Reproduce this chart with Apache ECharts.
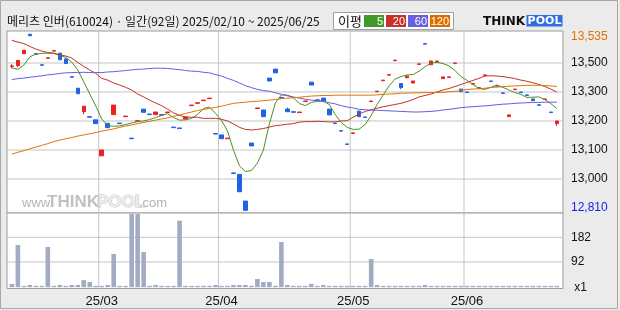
<!DOCTYPE html>
<html><head><meta charset="utf-8">
<script src="https://cdn.jsdelivr.net/npm/echarts@6/dist/echarts.min.js"></script>
<style>html,body{margin:0;padding:0;background:#ebebeb}#c{width:620px;height:310px}</style>
</head><body><div id="c"></div>
<script>
const titleText = '메리츠 인버(610024) · 일간(92일) 2025/02/10 ~ 2025/06/25';
const dates = [
'25/02/10','25/02/11','25/02/12','25/02/13','25/02/14','25/02/17','25/02/18','25/02/19','25/02/20','25/02/21',
'25/02/24','25/02/25','25/02/26','25/02/27','25/02/28','25/03/04','25/03/05','25/03/06','25/03/07','25/03/10',
'25/03/11','25/03/12','25/03/13','25/03/14','25/03/17','25/03/18','25/03/19','25/03/20','25/03/21','25/03/24',
'25/03/25','25/03/26','25/03/27','25/03/28','25/03/31','25/04/01','25/04/02','25/04/03','25/04/04','25/04/07',
'25/04/08','25/04/09','25/04/10','25/04/11','25/04/14','25/04/15','25/04/16','25/04/17','25/04/18','25/04/21',
'25/04/22','25/04/23','25/04/24','25/04/25','25/04/28','25/04/29','25/04/30','25/05/02','25/05/07','25/05/08',
'25/05/09','25/05/12','25/05/13','25/05/14','25/05/15','25/05/16','25/05/19','25/05/20','25/05/21','25/05/22',
'25/05/23','25/05/26','25/05/27','25/05/28','25/05/29','25/05/30','25/06/02','25/06/04','25/06/05','25/06/09',
'25/06/10','25/06/11','25/06/12','25/06/13','25/06/16','25/06/17','25/06/18','25/06/19','25/06/20','25/06/23',
'25/06/24','25/06/25'];
const opens = [
13388,13391,13432,13499,13432,13394,13416,13441,13434,13414,
13353,13313,13232,13215,13204,13080,13192,13222,13193,13215,
13141,13199,13241,13224,13222,13222,13229,13179,13176,13207,
13253,13261,13270,13277,13157,13152,13139,13021,13016,12924,
13124,13243,13238,13348,13379,13281,13241,13232,13229,13267,
13334,13273,13279,13241,13193,13167,13121,13157,13234,13214,
13267,13301,13339,13358,13408,13329,13349,13331,13395,13467,
13394,13405,13346,13350,13398,13310,13300,13327,13313,13357,
13338,13322,13297,13215,13308,13300,13290,13276,13256,13274,
13231,13191];
const closes = [
13390,13409,13444,13494,13430,13392,13418,13443,13411,13398,
13351,13294,13251,13213,13191,13100,13177,13255,13191,13217,
13139,13201,13230,13222,13231,13220,13231,13177,13174,13214,
13255,13263,13272,13279,13155,13139,13141,13019,12956,12892,
13114,13245,13215,13338,13366,13279,13232,13230,13231,13269,
13324,13271,13269,13221,13191,13165,13119,13159,13215,13212,
13269,13303,13341,13360,13410,13315,13355,13338,13397,13465,
13407,13407,13352,13352,13400,13301,13298,13329,13315,13359,
13336,13320,13295,13221,13310,13298,13288,13270,13254,13276,
13229,13200];
const lows = [
13382,13386,13432,13494,13430,13392,13416,13441,13411,13398,
13351,13294,13223,13213,13191,13080,13177,13222,13191,13215,
13139,13199,13230,13222,13222,13220,13229,13177,13174,13207,
13253,13261,13270,13277,13155,13139,13139,13019,12956,12892,
13114,13243,13215,13338,13366,13279,13232,13230,13229,13267,
13324,13271,13269,13221,13191,13165,13119,13157,13215,13212,
13267,13301,13339,13358,13408,13310,13349,13331,13395,13465,
13394,13405,13346,13350,13398,13301,13298,13327,13313,13357,
13336,13320,13295,13215,13308,13298,13288,13270,13254,13274,
13229,13183];
const highs = [
13396,13409,13444,13499,13432,13394,13418,13443,13434,13414,
13353,13313,13251,13215,13204,13100,13192,13255,13193,13217,
13141,13201,13241,13224,13231,13222,13231,13179,13176,13214,
13255,13263,13272,13279,13157,13152,13141,13023,13016,12924,
13124,13245,13238,13348,13379,13281,13246,13232,13231,13269,
13334,13273,13279,13241,13193,13167,13121,13159,13234,13214,
13269,13303,13341,13360,13410,13329,13355,13338,13397,13467,
13407,13407,13352,13352,13400,13310,13300,13329,13315,13359,
13338,13322,13297,13221,13310,13300,13290,13276,13256,13276,
13231,13200];
const volumes = [
12,154,5,8,5,5,147,5,8,5,
8,8,26,19,5,5,8,121,5,5,
267,267,128,5,8,5,5,5,243,5,
5,5,5,5,8,5,5,8,8,8,
5,30,19,19,5,165,8,5,5,5,
12,5,8,5,5,5,5,5,5,5,
103,8,5,5,5,5,5,5,5,8,
5,5,5,5,5,5,5,5,5,5,
5,5,5,5,5,5,5,5,5,5,
5,5];
const ma5 = [
13383,13378,13393,13421,13431,13433,13434,13433,13426,13419,
13403,13376,13335,13293,13252,13207,13184,13182,13183,13188,
13193,13198,13200,13205,13212,13219,13225,13212,13203,13204,
13209,13222,13243,13248,13226,13202,13166,13100,13045,13026,
13029,13055,13100,13190,13262,13290,13289,13281,13260,13253,
13264,13268,13269,13257,13222,13195,13178,13171,13172,13188,
13219,13257,13290,13321,13345,13353,13359,13360,13372,13387,
13400,13402,13398,13390,13374,13353,13340,13326,13312,13309,
13316,13324,13316,13307,13298,13292,13281,13282,13283,13274,
13260,13243];
const ma20 = [
13478,13472,13467,13457,13448,13441,13436,13434,13428,13424,
13417,13402,13388,13376,13364,13347,13341,13331,13324,13316,
13307,13293,13283,13272,13262,13253,13241,13228,13219,13214,
13213,13213,13209,13209,13209,13206,13200,13190,13178,13171,
13169,13171,13174,13179,13184,13186,13189,13191,13196,13198,
13198,13199,13198,13197,13197,13200,13201,13213,13224,13233,
13239,13244,13249,13253,13257,13261,13267,13274,13283,13288,
13293,13300,13307,13312,13319,13326,13333,13340,13347,13355,
13356,13355,13353,13350,13346,13341,13337,13332,13326,13319,
13310,13300];
const ma60 = [
13343,13346,13348,13351,13353,13356,13359,13361,13364,13366,
13367,13367,13368,13367,13367,13367,13369,13370,13372,13374,
13376,13378,13379,13381,13382,13382,13381,13379,13377,13374,
13372,13371,13368,13366,13360,13355,13347,13340,13331,13322,
13315,13309,13305,13303,13297,13292,13287,13283,13279,13275,
13272,13270,13267,13263,13259,13253,13248,13245,13240,13239,
13237,13237,13236,13235,13234,13233,13232,13231,13231,13232,
13233,13235,13238,13240,13243,13246,13248,13249,13251,13252,
13254,13256,13258,13259,13261,13262,13263,13264,13264,13265,
13265,13265];
const ma120 = [
13086,13092,13098,13104,13110,13116,13122,13129,13134,13139,
13143,13148,13152,13156,13160,13165,13169,13173,13178,13183,
13186,13191,13195,13199,13203,13207,13211,13216,13221,13226,
13231,13236,13240,13243,13247,13251,13256,13261,13263,13265,
13267,13268,13270,13272,13274,13277,13279,13280,13282,13284,
13286,13287,13288,13288,13289,13289,13289,13289,13289,13289,
13289,13290,13292,13293,13294,13296,13296,13297,13297,13298,
13298,13298,13299,13301,13302,13305,13309,13310,13311,13313,
13316,13317,13318,13320,13321,13322,13323,13323,13323,13322,
13321,13319];
const maNames = ['5','20','60','120'];
const maColors = ['#4a8f22','#bf3329','#6a5ae0','#e07400'];
const legendColors = ['#3f9a2b','#c8302a','#6b5fe0','#e06c00'];
const priceGridValues = [13000,13100,13200,13300,13400];
const priceLabelValues = [12902,13000,13100,13200,13300,13400,13489];
const priceLabelTexts = ['12,810','13,000','13,100','13,200','13,300','13,500','13,535'];
const volGridValues = [92,182];
const volLabelValues = [0,92,182];
const volLabelTexts = [' x1','92','182'];

const PMIN = 12882.8, PMAX = 13510.3, VMIN = -4.7, VMAX = 270.8;
const FXMIN = -0.817, FXMAX = 92.034;
const monthStart = [];
dates.forEach((d,i)=>{ if(i>0 && d.slice(3,5)!==dates[i-1].slice(3,5)) monthStart.push(i); });
const monthSet = new Set(monthStart);
const candleData = opens.map((o,i)=>[o, closes[i], lows[i], highs[i]]);

const FONT = '"Liberation Sans", Arial, sans-serif';
const KFONT = '"Noto Sans CJK KR", sans-serif';
const GRID_COLOR = '#c4c4c4';
const frame = {show:true, backgroundColor:'#ffffff', borderColor:'#9c9c9c', borderWidth:1};

function guideLine(xi, yi, pts){
  return {type:'line', xAxisIndex:xi, yAxisIndex:yi, data:pts, symbol:'none', silent:true, z:3,
    lineStyle:{color:GRID_COLOR, width:1}, emphasis:{disabled:true}, tooltip:{show:false}};
}
const guides = [];
priceGridValues.forEach(v=>guides.push(guideLine(0, 0, [[FXMIN, v],[FXMAX, v]])));
volGridValues.forEach(v=>guides.push(guideLine(1, 1, [[FXMIN, v],[FXMAX, v]])));
monthStart.forEach(i=>{
  guides.push(guideLine(0, 0, [[i-0.5, PMIN],[i-0.5, PMAX]]));
  guides.push(guideLine(1, 1, [[i-0.5, VMIN],[i-0.5, VMAX]]));
});

const graphic = [
  {type:'rect', shape:{x:0.5,y:0.5,width:617,height:308}, style:{fill:'none', stroke:'#a8a8a8', lineWidth:1}, silent:true},
  {type:'rect', shape:{x:333.5,y:12.5,width:120,height:17}, style:{fill:'#fff', stroke:'#a0a0a0', lineWidth:1}},
  {type:'text', x:338, y:21, style:{text:'이평', fill:'#111', font:'13px '+KFONT, verticalAlign:'middle', textVerticalAlign:'middle'}},
  {type:'text', x:483, y:21.5, style:{text:'THINK', fill:'#111', font:'900 12px "DejaVu Sans", sans-serif', verticalAlign:'middle', textVerticalAlign:'middle'}},
  {type:'rect', shape:{x:526.5,y:15,width:36,height:11.5}, style:{fill:'#2f6ee0'}},
  {type:'text', x:544.5, y:21, style:{text:'POOL', fill:'#fff', font:'bold 11px "DejaVu Sans", sans-serif', align:'center', textAlign:'center', verticalAlign:'middle', textVerticalAlign:'middle'}},
  {type:'text', x:22, y:210, style:{text:'www.', fill:'#b4b4b4', font:'13px '+FONT, verticalAlign:'bottom', textVerticalAlign:'bottom'}},
  {type:'text', x:47, y:211, style:{text:'THINK', fill:'#c2c2c2', font:'bold 17px '+FONT, verticalAlign:'bottom', textVerticalAlign:'bottom'}},
  {type:'text', x:97, y:211, style:{text:'POOL', fill:'#ececec', stroke:'#c4c4c4', lineWidth:1, font:'bold 17px '+FONT, verticalAlign:'bottom', textVerticalAlign:'bottom'}},
  {type:'text', x:139, y:210, style:{text:'.com', fill:'#b4b4b4', font:'13px '+FONT, verticalAlign:'bottom', textVerticalAlign:'bottom'}}
];
maNames.forEach((n,k)=>{
  const x0 = 364 + 22*k;
  graphic.push({type:'rect', shape:{x:x0,y:15,width:20,height:12}, style:{fill:legendColors[k]}});
  graphic.push({type:'text', x:x0+19, y:21.5, style:{text:n, fill:'#fff', font:'11px '+FONT, align:'right', textAlign:'right', verticalAlign:'middle', textVerticalAlign:'middle'}});
});

const option = {
  animation:false,
  backgroundColor:'#ebebeb',
  title:{text:titleText, left:7, top:15, padding:0, textStyle:{fontSize:12, fontWeight:'normal', color:'#111', fontFamily:KFONT}},
  graphic: graphic,
  grid:[
    Object.assign({left:7, right:57, top:31, height:182}, frame),
    Object.assign({left:7, right:57, top:213, height:75.5}, frame),
    {left:8.9, right:60.2, top:31, height:182},
    {left:8.9, right:60.2, top:213, height:75.5}
  ],
  xAxis:[
    {type:'value', gridIndex:0, min:FXMIN, max:FXMAX, show:false},
    {type:'value', gridIndex:1, min:FXMIN, max:FXMAX, show:false},
    {type:'category', gridIndex:2, data:dates, boundaryGap:true, axisLine:{show:false}, axisTick:{show:false}, axisLabel:{show:false}, splitLine:{show:false}},
    {type:'category', gridIndex:3, data:dates, boundaryGap:true, axisLine:{show:false}, axisTick:{show:false}, splitLine:{show:false},
      axisLabel:{show:true, interval:(i)=>monthSet.has(i), formatter:(v)=>v.slice(0,5), margin:6, fontSize:13, color:'#111', fontFamily:FONT}}
  ],
  yAxis:[
    {type:'value', gridIndex:0, position:'right', min:PMIN, max:PMAX,
      axisLine:{show:false}, axisTick:{show:false}, splitLine:{show:false},
      axisLabel:{customValues:priceLabelValues, margin:8, fontSize:12, color:'#111', fontFamily:FONT,
        formatter:(v)=>{const k=priceLabelValues.indexOf(v); const t=priceLabelTexts[k]; if(k===0) return '{lo|'+t+'}'; if(k===priceLabelValues.length-1) return '{hi|'+t+'}'; return t;},
        rich:{lo:{color:'#1a1ae6', fontSize:12, fontFamily:FONT}, hi:{color:'#e07400', fontSize:12, fontFamily:FONT}}}},
    {type:'value', gridIndex:1, position:'right', min:VMIN, max:VMAX,
      axisLine:{show:false}, axisTick:{show:false}, splitLine:{show:false},
      axisLabel:{customValues:volLabelValues, margin:8, fontSize:12, color:'#111', fontFamily:FONT,
        formatter:(v)=>volLabelTexts[volLabelValues.indexOf(v)]}},
    {type:'value', gridIndex:2, min:PMIN, max:PMAX, show:false},
    {type:'value', gridIndex:3, min:VMIN, max:VMAX, show:false}
  ],
  series: guides.concat([
    {type:'candlestick', xAxisIndex:2, yAxisIndex:2, data:candleData, barWidth:4, z:10,
      itemStyle:{color:'#f01e1e', color0:'#2062e6', borderColor:'#f01e1e', borderColor0:'#2062e6', borderWidth:1}},
    {type:'line', name:'MA5', xAxisIndex:2, yAxisIndex:2, data:ma5, symbol:'none', lineStyle:{color:maColors[0], width:1}, z:11},
    {type:'line', name:'MA20', xAxisIndex:2, yAxisIndex:2, data:ma20, symbol:'none', lineStyle:{color:maColors[1], width:1}, z:11},
    {type:'line', name:'MA60', xAxisIndex:2, yAxisIndex:2, data:ma60, symbol:'none', lineStyle:{color:maColors[2], width:1}, z:11},
    {type:'line', name:'MA120', xAxisIndex:2, yAxisIndex:2, data:ma120, symbol:'none', lineStyle:{color:maColors[3], width:1}, z:11},
    {type:'bar', xAxisIndex:3, yAxisIndex:3, data:volumes, barWidth:4.6, z:10, itemStyle:{color:'#a3abc3'}}
  ])
};
const chart = echarts.init(document.getElementById('c'));
chart.setOption(option);
</script>
</body></html>
